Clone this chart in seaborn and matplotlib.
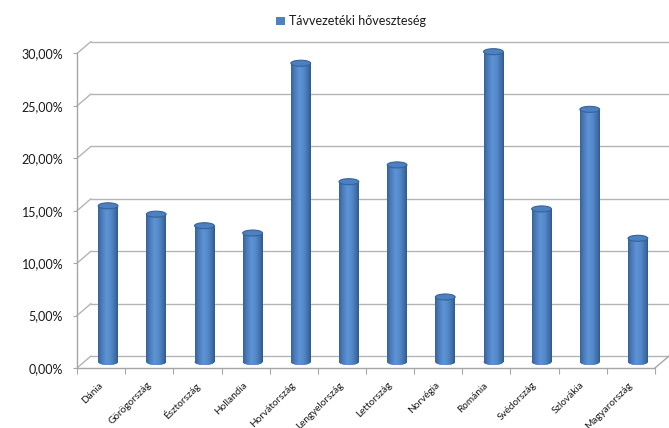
import numpy as np
import matplotlib
matplotlib.use("Agg")
import matplotlib.pyplot as plt
import matplotlib.transforms as mtrans
from matplotlib.patches import Ellipse, Patch
from matplotlib.colors import LinearSegmentedColormap
from matplotlib.ticker import FuncFormatter
import seaborn as sns

# Data
countries = ["Dánia", "Görögország", "Észtország", "Hollandia", "Horvátország",
             "Lengyelország", "Lettország", "Norvégia", "Románia", "Svédország",
             "Szlovákia", "Magyarország"]
losses = [0.149, 0.141, 0.130, 0.123, 0.285, 0.172, 0.188, 0.062, 0.296, 0.146,
          0.241, 0.118]
series_name = "Távvezetéki hőveszteség"
y_ticks = [0.0, 0.05, 0.10, 0.15, 0.20, 0.25, 0.30]

sns.set_theme(style="white")
plt.rcParams["font.family"] = ["Lato", "DejaVu Sans"]

W, H, DPI = 669, 428, 100
fig = plt.figure(figsize=(W / DPI, H / DPI), dpi=DPI)
ax = fig.add_axes([77 / W, 1 - 368 / H, (655 - 77) / W, (368 - 53.5) / H])
ax.patch.set_alpha(0)

bar_blue = "#4F81BD"
sns.barplot(x=countries, y=losses, color=bar_blue, saturation=1, width=0.41,
            ax=ax, zorder=2)
ax.set_xlim(-0.5, len(countries) - 0.5)
ax.set_ylim(0, 0.30)
for s in ax.spines.values():
    s.set_visible(False)
ax.set_xlabel("")
ax.set_ylabel("")

# pixel <-> data conversions (axes geometry is fixed)
p0 = ax.transData.transform((0, 0))
px_x = ax.transData.transform((1, 0))[0] - p0[0]
px_y = ax.transData.transform((0, 1))[1] - p0[1]

grid_c = "#b4b4b4"
axis_c = "#a6a6a6"
depth_dx, depth_dy = 14 / px_x, 12 / px_y          # back wall offset
x_lo, x_hi = -0.5, len(countries) - 0.5

# back wall gridlines and the slanted connectors to the front axis
for t in y_ticks:
    ax.plot([x_lo + depth_dx, x_hi + depth_dx], [t + depth_dy] * 2,
            color=grid_c, lw=1, clip_on=False, zorder=0)
    ax.plot([x_lo, x_lo + depth_dx], [t, t + depth_dy],
            color=grid_c, lw=1, clip_on=False, zorder=0)
# front vertical axis
ax.plot([x_lo, x_lo], [0, 0.30], color=axis_c, lw=1, clip_on=False, zorder=1)
# floor front edge and right slanted edge
ax.plot([x_lo, x_hi], [0, 0], color=axis_c, lw=1, clip_on=False, zorder=1)
ax.plot([x_hi, x_hi + depth_dx], [0, depth_dy], color=axis_c, lw=1,
        clip_on=False, zorder=1)

# cylinder shading
cyl = LinearSegmentedColormap.from_list(
    "cyl", [(0.0, "#36639b"), (0.18, "#4a7cba"), (0.42, "#5e93d5"),
            (0.62, "#558bcc"), (0.85, "#4272ad"), (1.0, "#30598a")])
grad = np.linspace(0, 1, 64).reshape(1, -1)
# bars stand half-way into the depth of the plot box
shift = mtrans.ScaledTranslation(7 / DPI, 6 / DPI, fig.dpi_scale_trans)
bar_tr = ax.transData + shift
ell_h = 6 / px_y

for p in list(ax.patches):
    x0, w, h = p.get_x(), p.get_width(), p.get_height()
    xc = x0 + w / 2
    p.set_transform(bar_tr)
    p.set_edgecolor("none")
    p.set_clip_on(False)
    body = ax.imshow(grad, cmap=cyl, extent=(x0, x0 + w, 0, h), aspect="auto",
                     transform=bar_tr, zorder=2.1, interpolation="bilinear")
    body.set_clip_path(p)
    base = Ellipse((xc, 0), w, ell_h, transform=bar_tr, facecolor=bar_blue,
                   edgecolor="none", zorder=1.9, clip_on=False)
    ax.add_patch(base)
    base_img = ax.imshow(grad, cmap=cyl, extent=(x0, x0 + w, -ell_h, ell_h),
                         aspect="auto", transform=bar_tr, zorder=2.0,
                         interpolation="bilinear")
    base_img.set_clip_path(base)
    top = Ellipse((xc, h), w, ell_h, transform=bar_tr, facecolor="#4d80bf",
                  edgecolor="#36639b", lw=0.8, zorder=3, clip_on=False)
    ax.add_patch(top)

ax.set_xlim(x_lo, x_hi)
ax.set_ylim(0, 0.30)

# ticks and labels
ax.set_yticks(y_ticks)
ax.yaxis.set_major_formatter(
    FuncFormatter(lambda v, _: f"{v * 100:.2f}".replace(".", ",") + "%"))
ax.tick_params(axis="y", left=True, length=3, width=0.8, color=axis_c, pad=7,
               labelsize=9, labelcolor="#1a1a1a")
ax.set_xticks(np.arange(len(countries)))
ax.set_xticklabels(countries)
ax.set_xticks(np.arange(-0.5, len(countries)), minor=True)
ax.tick_params(axis="x", which="major", length=0, pad=9, labelsize=7.2,
               labelcolor="#1a1a1a")
ax.tick_params(axis="x", which="minor", bottom=True, length=4, width=0.8,
               color=axis_c)
for lab in ax.get_xticklabels():
    lab.set_rotation(45)
    lab.set_ha("right")
    lab.set_rotation_mode("anchor")
    lab.set_transform(lab.get_transform() +
                      mtrans.ScaledTranslation(-3 / DPI, 0, fig.dpi_scale_trans))

fig.legend(handles=[Patch(facecolor=bar_blue, edgecolor="none", label=series_name)],
           loc="upper center", bbox_to_anchor=(351 / W, 1 - 4 / H), frameon=False,
           handlelength=0.7, handleheight=0.7, handletextpad=0.3, fontsize=9,
           labelcolor="#1a1a1a")

fig.savefig("out.png", dpi=DPI)
